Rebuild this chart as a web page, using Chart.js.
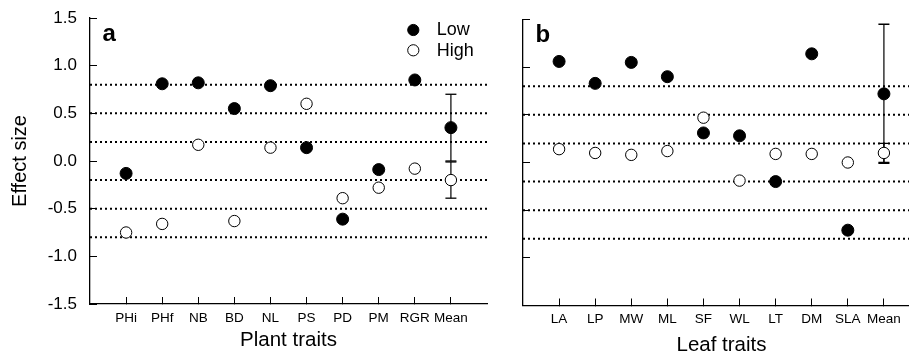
<!DOCTYPE html>
<html>
<head>
<meta charset="utf-8">
<script src="https://cdn.jsdelivr.net/npm/chart.js@4"></script>
<style>
  html, body { margin: 0; padding: 0; background: #fff; overflow: hidden; }
  body { width: 909px; height: 358px; position: relative; }
  canvas { position: absolute; top: 0; }
  #panelA { left: 0; }
  #panelB { left: 490px; }
</style>
</head>
<body>
<canvas id="panelA" width="490" height="358"></canvas>
<canvas id="panelB" width="430" height="358"></canvas>
<script>
// plant traits (panel a)
var plantTraits = ['PHi', 'PHf', 'NB', 'BD', 'NL', 'PS', 'PD', 'PM', 'RGR', 'Mean'];
var plantLow  = [-0.13, 0.81, 0.82, 0.55, 0.79, 0.14, -0.61, -0.09, 0.85, 0.35];
var plantHigh = [-0.75, -0.66, 0.17, -0.63, 0.14, 0.60, -0.39, -0.28, -0.08, -0.20];
var plantMeanErr = [0.35, 0.19];   // low, high

// leaf traits (panel b)
var leafTraits = ['LA', 'LP', 'MW', 'ML', 'SF', 'WL', 'LT', 'DM', 'SLA', 'Mean'];
var leafLow  = [1.06, 0.83, 1.05, 0.90, 0.31, 0.28, -0.20, 1.14, -0.71, 0.72];
var leafHigh = [0.14, 0.10, 0.08, 0.12, 0.47, -0.19, 0.09, 0.09, 0.00, 0.10];
var leafMeanErr = [0.73, 0.10];

var refLevels = [0.8, 0.5, 0.2, -0.2, -0.5, -0.8];
var yTicks = [-1.5, -1.0, -0.5, 0.0, 0.5, 1.0, 1.5];

Chart.defaults.font.family = '"Liberation Sans", Arial, sans-serif';
Chart.defaults.color = '#000';

function toPoints(vals) {
    return vals.map(function (v, i) { return {x: i + 1, y: v}; });
}

// letters + legend, drawn on top of the plot
var panelText = {
    id: 'panelText',
    afterDraw: function (chart, args, opts) {
        var ctx = chart.ctx, ca = chart.chartArea;
        ctx.save();
        ctx.fillStyle = '#000';
        ctx.font = 'bold 24px "Liberation Sans", Arial, sans-serif';
        ctx.textBaseline = 'alphabetic';
        ctx.fillText(opts.letter, ca.left + 12.5, ca.top + 22.5);
        if (opts.legend) {
            var mx = ca.right - 73.7;
            var rows = [['Low', '#000', ca.top + 12], ['High', '#fff', ca.top + 32.3]];
            ctx.font = '18px "Liberation Sans", Arial, sans-serif';
            ctx.textBaseline = 'middle';
            rows.forEach(function (r) {
                ctx.beginPath();
                ctx.arc(mx, r[2], 5.6, 0, Math.PI * 2);
                ctx.fillStyle = r[1];
                ctx.fill();
                ctx.lineWidth = 1;
                ctx.strokeStyle = '#000';
                ctx.stroke();
                ctx.fillStyle = '#000';
                ctx.fillText(r[0], mx + 23.4, r[2] + 0.5);
            });
        }
        ctx.restore();
    }
};

function drawPanel(canvasId, cats, low, high, meanErr, opt) {
    var n = cats.length;
    var datasets = [];

    datasets.push({
        label: 'Low', data: toPoints(low), order: 0,
        pointRadius: 6, pointHoverRadius: 6,
        backgroundColor: '#000', borderColor: '#000', borderWidth: 1
    });
    datasets.push({
        label: 'High', data: toPoints(high), order: 1,
        pointRadius: 5.7, pointHoverRadius: 5.7,
        backgroundColor: '#fff', borderColor: '#000', borderWidth: 1
    });

    // error bars on the mean
    [low[n - 1], high[n - 1]].forEach(function (m, k) {
        datasets.push({
            type: 'line', order: 2,
            data: [{x: n, y: m - meanErr[k]}, {x: n, y: m + meanErr[k]}],
            borderColor: '#000', borderWidth: 1.2,
            pointStyle: 'line', pointRadius: 5.5, pointBorderWidth: 1.3,
            pointBorderColor: '#000'
        });
    });

    refLevels.forEach(function (v) {
        datasets.push({
            type: 'line', order: 3,
            data: [{x: 0, y: v}, {x: n + 1, y: v}],
            borderColor: '#000', borderWidth: 2, borderDash: [2, 3],
            pointRadius: 0
        });
    });

    var ctx = document.getElementById(canvasId).getContext('2d');
    return new Chart(ctx, {
        type: 'scatter',
        data: { datasets: datasets },
        options: {
            responsive: false,
            animation: false,
            events: [],
            layout: {
                autoPadding: false,
                padding: { top: opt.top, right: opt.right, left: 0, bottom: 0 }
            },
            plugins: {
                legend: { display: false },
                tooltip: { enabled: false },
                panelText: { letter: opt.letter, legend: opt.legend }
            },
            scales: {
                x: {
                    type: 'linear', min: 0, max: n + 1,
                    afterBuildTicks: function (s) {
                        s.ticks = cats.map(function (c, i) { return {value: i + 1}; });
                    },
                    afterFit: function (s) {
                        s.height = opt.xHeight;
                        s.paddingLeft = 0; s.paddingRight = 0;
                    },
                    ticks: {
                        autoSkip: false, maxRotation: 0, padding: 13,
                        font: { size: 13.5 },
                        callback: function (v) { return cats[v - 1]; }
                    },
                    grid: { drawOnChartArea: false, tickLength: -7, color: '#000', lineWidth: 1 },
                    border: { display: true, color: '#000', width: 1.3 },
                    title: {
                        display: true, text: opt.xTitle,
                        font: { size: 20.5 },
                        padding: { top: 0, bottom: opt.titlePad }
                    }
                },
                y: {
                    min: -1.5, max: 1.5,
                    afterBuildTicks: function (s) {
                        s.ticks = yTicks.map(function (v) { return {value: v}; });
                    },
                    afterFit: function (s) {
                        s.width = opt.yWidth;
                        s.paddingTop = 0; s.paddingBottom = 0;
                    },
                    ticks: {
                        display: opt.yLabels, padding: 20,
                        font: { size: 17 },
                        callback: function (v) { return v.toFixed(1); }
                    },
                    grid: { drawOnChartArea: false, tickLength: -7, color: '#000', lineWidth: 1 },
                    border: { display: true, color: '#000', width: 1.3 },
                    title: {
                        display: opt.yLabels, text: 'Effect size',
                        font: { size: 20 },
                        padding: { top: 8, bottom: 0 }
                    }
                }
            }
        },
        plugins: [panelText]
    });
}

drawPanel('panelA', plantTraits, plantLow, plantHigh, plantMeanErr, {
    letter: 'a', legend: true, top: 18, right: 3, yWidth: 90, xHeight: 54,
    xTitle: 'Plant traits', titlePad: 5, yLabels: true
});
drawPanel('panelB', leafTraits, leafLow, leafHigh, leafMeanErr, {
    letter: 'b', legend: false, top: 19.5, right: 0, yWidth: 33, xHeight: 52.5,
    xTitle: 'Leaf traits', titlePad: 0, yLabels: false
});
</script>
</body>
</html>
